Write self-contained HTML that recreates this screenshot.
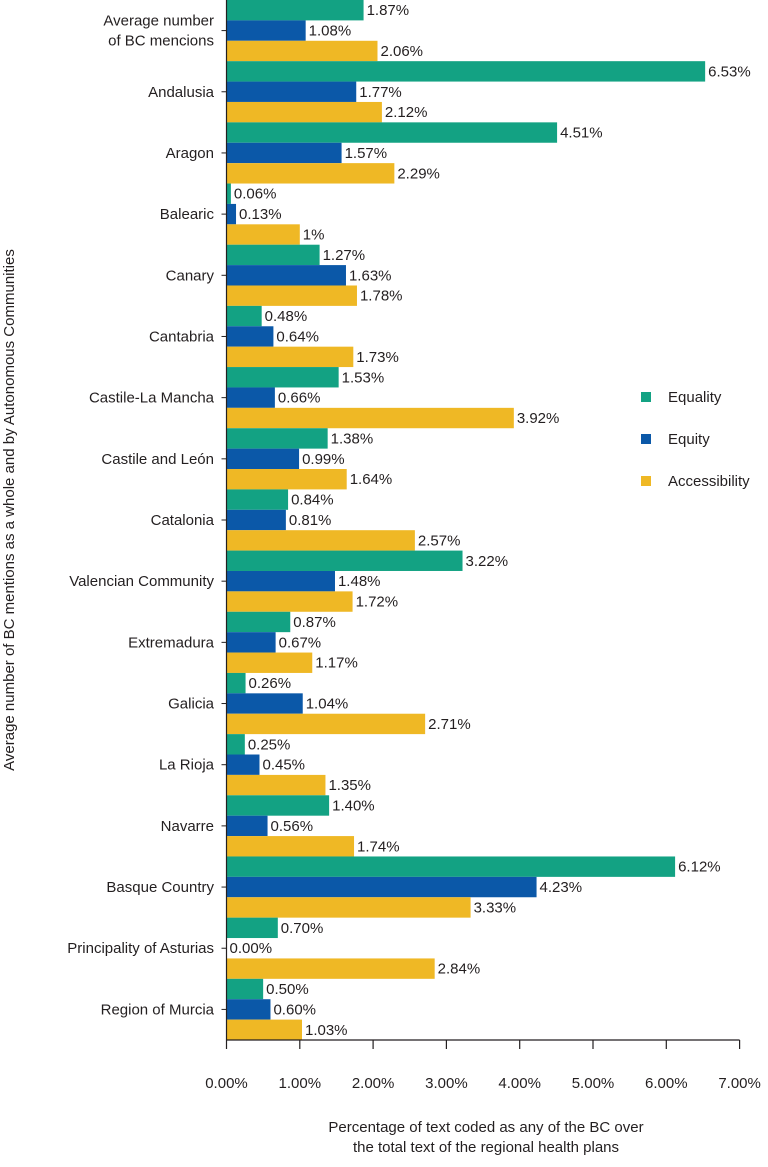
<!DOCTYPE html>
<html><head><meta charset="utf-8"><style>
body{margin:0;background:#fff;position:relative;}
svg text{font-family:"Liberation Sans",sans-serif;fill:#231f20;}
</style></head><body>
<svg id="chart" width="768" height="1162" xmlns="http://www.w3.org/2000/svg">
<g id="bars"></g>
<g id="axes"></g>
</svg>
<script>
const categories=["Average number|of BC mencions","Andalusia","Aragon","Balearic","Canary","Cantabria","Castile-La Mancha","Castile and León","Catalonia","Valencian Community","Extremadura","Galicia","La Rioja","Navarre","Basque Country","Principality of Asturias","Region of Murcia"];
const equality=[1.87,6.53,4.51,0.06,1.27,0.48,1.53,1.38,0.84,3.22,0.87,0.26,0.25,1.40,6.12,0.70,0.50];
const equity=[1.08,1.77,1.57,0.13,1.63,0.64,0.66,0.99,0.81,1.48,0.67,1.04,0.45,0.56,4.23,0.00,0.60];
const accessibility=[2.06,2.12,2.29,1,1.78,1.73,3.92,1.64,2.57,1.72,1.17,2.71,1.35,1.74,3.33,2.84,1.03];
const eqLabels=["1.87%","6.53%","4.51%","0.06%","1.27%","0.48%","1.53%","1.38%","0.84%","3.22%","0.87%","0.26%","0.25%","1.40%","6.12%","0.70%","0.50%"];
const eyLabels=["1.08%","1.77%","1.57%","0.13%","1.63%","0.64%","0.66%","0.99%","0.81%","1.48%","0.67%","1.04%","0.45%","0.56%","4.23%","0.00%","0.60%"];
const acLabels=["2.06%","2.12%","2.29%","1%","1.78%","1.73%","3.92%","1.64%","2.57%","1.72%","1.17%","2.71%","1.35%","1.74%","3.33%","2.84%","1.03%"];
const ticks=[0,1,2,3,4,5,6,7];
const tickLabels=["0.00%","1.00%","2.00%","3.00%","4.00%","5.00%","6.00%","7.00%"];

const NS="http://www.w3.org/2000/svg";
const x0=226.5,pxPer=73.3,plotTop=0,plotBottom=1040;
const gh=(plotBottom-plotTop)/categories.length, bh=gh/3;
const xs=v=>x0+v*pxPer;
const barsG=document.getElementById('bars'),axesG=document.getElementById('axes');
function mk(tag,attrs,parent){const e=document.createElementNS(NS,tag);for(const k in attrs)e.setAttribute(k,attrs[k]);parent.appendChild(e);return e;}
const series=[[equality,eqLabels,"#13a283","equality"],[equity,eyLabels,"#0b58a8","equity"],[accessibility,acLabels,"#efb825","accessibility"]];
categories.forEach((c,i)=>{
  series.forEach((s,j)=>{
    const y=plotTop+i*gh+j*bh;
    const r=mk('rect',{x:x0,y:y,width:Math.max(0,xs(s[0][i])-x0),height:bh,fill:s[2]},barsG);
    
    
    const t=mk('text',{x:xs(s[0][i])+3,y:y+bh/2+5,'font-size':15},barsG);
    t.textContent=s[1][i];
    
    
  });
  const cy=plotTop+i*gh+gh/2;
  mk('line',{x1:x0-5,x2:x0,y1:cy,y2:cy,stroke:'#231f20'},axesG);
  const parts=c.split('|');
  parts.forEach((p,k)=>{
    const t=mk('text',{x:214,y:cy+5+(k-(parts.length-1)/2)*20,'font-size':15,'text-anchor':'end'},axesG);
    t.textContent=p;
    
    
  });
});
mk('line',{x1:x0,x2:x0,y1:0,y2:plotBottom,stroke:'#231f20','stroke-width':1.2},axesG);
mk('line',{x1:x0,x2:xs(7),y1:plotBottom,y2:plotBottom,stroke:'#231f20','stroke-width':1.2},axesG);
ticks.forEach((v,i)=>{
  mk('line',{x1:xs(v),x2:xs(v),y1:plotBottom,y2:plotBottom+9,stroke:'#231f20','stroke-width':1.2},axesG);
  const t=mk('text',{x:xs(v),y:1088,'font-size':15,'text-anchor':'middle'},axesG);
  t.textContent=tickLabels[i];
  
  
});
</script>
<svg width="768" height="1162" style="position:absolute;left:0;top:0" xmlns="http://www.w3.org/2000/svg">
<text x="486" y="1132" font-size="15" text-anchor="middle">Percentage of text coded as any of the BC over</text>
<text x="486" y="1152" font-size="15" text-anchor="middle">the total text of the regional health plans</text>
<text transform="translate(14,510) rotate(-90)" font-size="15" text-anchor="middle">Average number of BC mentions as a whole and by Autonomous Communities</text>
<g>
<rect x="641" y="392" width="10" height="10" fill="#13a283"/>
<text x="668" y="402" font-size="15">Equality</text>
<rect x="641" y="434" width="10" height="10" fill="#0b58a8"/>
<text x="668" y="444" font-size="15">Equity</text>
<rect x="641" y="476" width="10" height="10" fill="#efb825"/>
<text x="668" y="486" font-size="15">Accessibility</text>
</g>
</svg>
</body></html>
